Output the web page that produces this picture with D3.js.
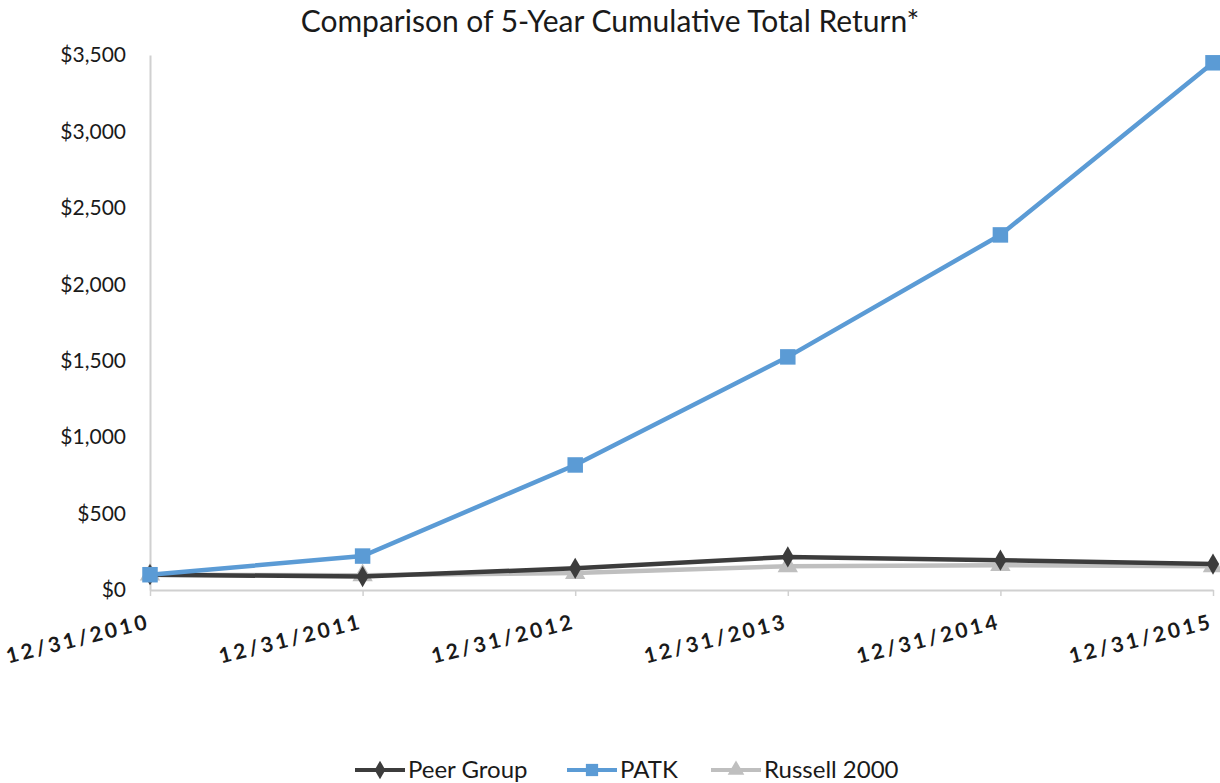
<!DOCTYPE html>
<html>
<head>
<meta charset="utf-8">
<script src="https://d3js.org/d3.v7.min.js"></script>
<style>
  body { margin: 0; background: #fff; }
  text { font-family: Lato, "Open Sans", sans-serif; fill: #1a1a1a; }
</style>
</head>
<body>
<div class="chart"></div>
<script>
// data
var dates = ["12/31/2010", "12/31/2011", "12/31/2012", "12/31/2013", "12/31/2014", "12/31/2015"];
var peerGroup = [100, 88, 142, 216, 195, 170];
var patk = [100, 222, 818, 1525, 2323, 3449];
var russell = [100, 96, 111, 155, 162, 155];
var yTicks = [0, 500, 1000, 1500, 2000, 2500, 3000, 3500];

var svgWidth = 1220;
var svgHeight = 783;

var margin = { top: 55, right: 7, bottom: 193, left: 150 };
var width = svgWidth - margin.left - margin.right;
var height = svgHeight - margin.top - margin.bottom;

var series = [
  { name: "Peer Group", values: peerGroup, color: "#3c3c3c", marker: "diamond" },
  { name: "PATK", values: patk, color: "#5b9bd5", marker: "square" },
  { name: "Russell 2000", values: russell, color: "#bfbfbf", marker: "triangle" }
];
// draw order: Russell under, then Peer, then PATK on top
var drawOrder = [series[2], series[0], series[1]];

var svg = d3
  .select(".chart")
  .append("svg")
  .attr("width", svgWidth)
  .attr("height", svgHeight);

var chartGroup = svg
  .append("g")
  .attr("transform", `translate(${margin.left}, ${margin.top})`);

var xScale = d3.scalePoint().domain(dates).range([0, width]);
var yScale = d3.scaleLinear().domain([0, 3500]).range([height, 0]);

// title
svg
  .append("text")
  .attr("x", 610)
  .attr("y", 32)
  .attr("text-anchor", "middle")
  .attr("font-size", "30px")
  .text("Comparison of 5-Year Cumulative Total Return*");

// y axis
var leftAxis = d3
  .axisLeft(yScale)
  .tickValues(yTicks)
  .tickSize(0)
  .tickPadding(24)
  .tickFormat((d) => "$" + d3.format(",")(d));

var yAxis = chartGroup.append("g").call(leftAxis);
yAxis.select(".domain").attr("stroke", "#d0d0d0").attr("stroke-width", 2);
yAxis
  .selectAll("text")
  .attr("font-size", "21px")
  .attr("font-family", "Lato, sans-serif")
  .attr("fill", "#1a1a1a");

// x axis
var bottomAxis = d3.axisBottom(xScale).tickSize(6).tickSizeOuter(0).tickFormat("");
var xAxis = chartGroup
  .append("g")
  .attr("transform", `translate(0, ${height})`)
  .call(bottomAxis);
xAxis.select(".domain").attr("stroke", "#d0d0d0").attr("stroke-width", 2);
xAxis.selectAll(".tick line").attr("stroke", "#d0d0d0").attr("stroke-width", 1.5);

chartGroup
  .selectAll(".xLabel")
  .data(dates)
  .enter()
  .append("text")
  .classed("xLabel", true)
  .attr("text-anchor", "end")
  .attr("font-size", "21px")
  .attr("font-weight", "bold")
  .attr("letter-spacing", "3px")
  .attr("transform", (d) => `translate(${xScale(d) + 1}, ${height + 38}) rotate(-14)`)
  .text((d) => d);

// lines + markers
var line = d3
  .line()
  .x((d, i) => xScale(dates[i]))
  .y((d) => yScale(d));

function markerPath(type, size) {
  var sym = type === "diamond" ? d3.symbolDiamond : type === "square" ? d3.symbolSquare : d3.symbolTriangle;
  return d3.symbol().type(sym).size(size)();
}

drawOrder.forEach(function (s) {
  chartGroup
    .append("path")
    .datum(s.values)
    .attr("fill", "none")
    .attr("stroke", s.color)
    .attr("stroke-width", 4.5)
    .attr("d", line);

  chartGroup
    .selectAll(".m-" + s.marker)
    .data(s.values)
    .enter()
    .append("path")
    .attr("class", "m-" + s.marker)
    .attr("d", markerPath(s.marker, s.marker === "square" ? 240 : s.marker === "diamond" ? 130 : 180))
    .attr("fill", s.color)
    .attr("transform", (d, i) => `translate(${xScale(dates[i])}, ${yScale(d)})`);
});

// legend
var legendX = [355, 567, 711];
var legend = svg
  .selectAll(".legend")
  .data(series)
  .enter()
  .append("g")
  .attr("class", "legend")
  .attr("transform", (d, i) => `translate(${legendX[i]}, 770)`);

legend
  .append("line")
  .attr("x1", 0)
  .attr("x2", 50)
  .attr("stroke", (d) => d.color)
  .attr("stroke-width", 4);

legend
  .append("path")
  .attr("d", (d) => markerPath(d.marker, d.marker === "square" ? 150 : d.marker === "diamond" ? 100 : 120))
  .attr("fill", (d) => d.color)
  .attr("transform", "translate(25, 0)");

legend
  .append("text")
  .attr("x", 53)
  .attr("y", 8)
  .attr("font-size", "24px")
  .text((d) => d.name);
</script>
</body>
</html>
